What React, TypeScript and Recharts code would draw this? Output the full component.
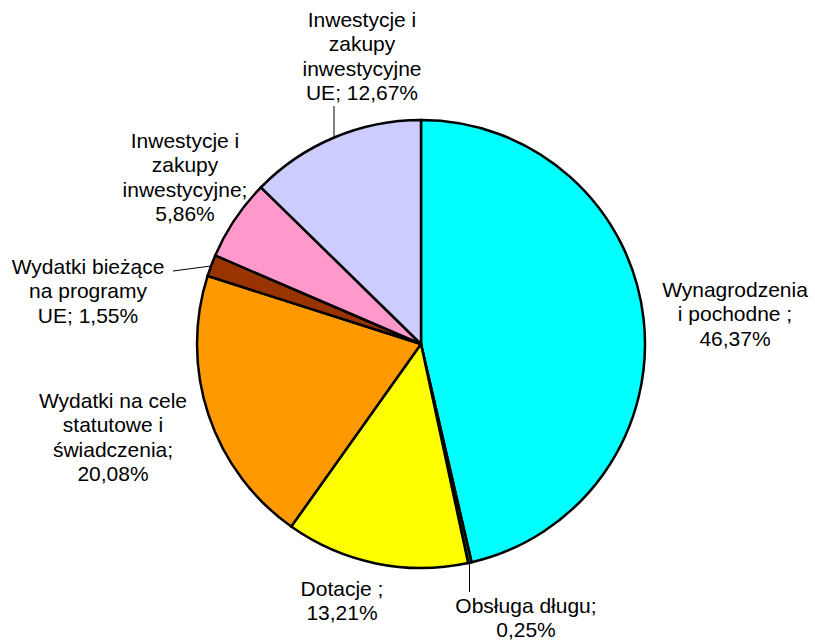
import React from 'react';
import { PieChart, Pie, Cell } from 'recharts';

const categories = [
  ['Wynagrodzenia', 'i pochodne ;'],
  ['Obsługa długu;'],
  ['Dotacje ;'],
  ['Wydatki na cele', 'statutowe i', 'świadczenia;'],
  ['Wydatki bieżące', 'na programy', 'UE;'],
  ['Inwestycje i', 'zakupy', 'inwestycyjne;'],
  ['Inwestycje i', 'zakupy', 'inwestycyjne', 'UE;'],
];
const values = [46.37, 0.25, 13.21, 20.08, 1.55, 5.86, 12.67];
const valueLabels = ['46,37%', '0,25%', '13,21%', '20,08%', '1,55%', '5,86%', '12,67%'];

const colors = ['#00FFFF', '#008000', '#FFFF00', '#FF9900', '#993300', '#FF99CC', '#CCCCFF'];

// label placement (offset from pie centre, baseline of first line)
const labelPos = [
  [314, -47],
  [105, 269],
  [-79, 252],
  [-308, 64],
  [-333, -70],
  [-236, -196],
  [-59, -317],
];
// leader lines: offsets from pie centre
const leaders: Record<number, number[]> = {
  1: [48.5, 218, 48.5, 248],
  4: [-210, -78, -248, -73],
  6: [-87, -206, -87, -238],
};

const data = categories.map((c, i) => ({ name: c.join(' '), value: values[i] }));

const LH = 24.4;

function buildLines(i: number): string[] {
  const lines = [...categories[i]];
  // join last line with value if ends with "UE;"
  const last = lines[lines.length - 1];
  if (last === 'UE;') {
    lines[lines.length - 1] = 'UE; ' + valueLabels[i];
  } else {
    lines.push(valueLabels[i]);
  }
  return lines;
}

const renderLabel = (props: any) => {
  const { cx, cy, index } = props;
  const [dx, dy] = labelPos[index];
  const lines = buildLines(index);
  const ld = leaders[index];
  return (
    <g key={'lbl' + index}>
      {ld && (
        <line
          x1={cx + ld[0]}
          y1={cy + ld[1]}
          x2={cx + ld[2]}
          y2={cy + ld[3]}
          stroke="#000"
          strokeWidth={1}
        />
      )}
      <text
        x={cx + dx}
        y={cy + dy}
        textAnchor="middle"
        fill="#000"
        style={{ fontFamily: '"Liberation Sans", Arial, sans-serif', fontSize: 21 }}
      >
        {lines.map((l, k) => (
          <tspan key={k} x={cx + dx} y={cy + dy + k * LH}>
            {l}
          </tspan>
        ))}
      </text>
    </g>
  );
};

export default function App() {
  return (
    <div style={{ position: 'absolute', left: 0, top: 0, width: 815, height: 643, background: '#fff' }}>
      <PieChart width={815} height={643} margin={{ top: 0, right: 0, bottom: 0, left: 0 }}>
        <Pie
          data={data}
          dataKey="value"
          cx={421}
          cy={344}
          outerRadius={224}
          startAngle={90}
          endAngle={-270}
          stroke="#000"
          strokeWidth={2.5}
          label={renderLabel}
          labelLine={false}
          isAnimationActive={false}
        >
          {data.map((d, i) => (
            <Cell key={i} fill={colors[i]} />
          ))}
        </Pie>
      </PieChart>
    </div>
  );
}
